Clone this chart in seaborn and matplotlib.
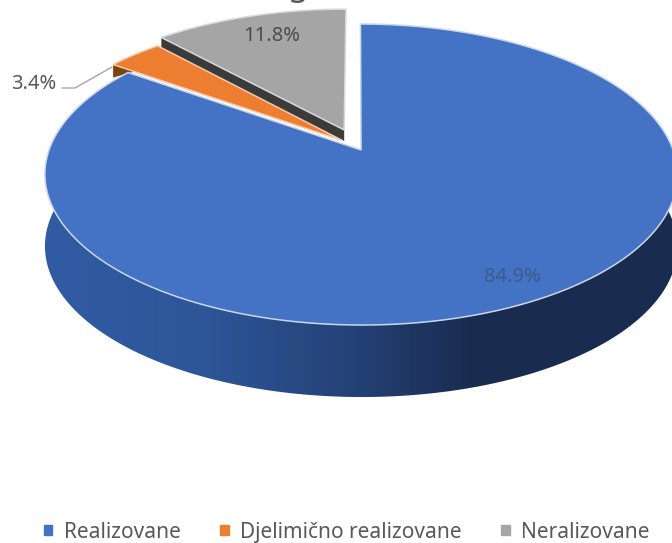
import numpy as np
import matplotlib
matplotlib.use("Agg")
import matplotlib.pyplot as plt
from matplotlib.patches import Patch, Polygon
import seaborn as sns

categories = ['Realizovane', 'Djelimično realizovane', 'Neralizovane']
values = [84.9, 3.4, 11.8]

sns.set_theme(style="white")
plt.rcParams['font.family'] = ['Noto Sans', 'DejaVu Sans']

palette = sns.color_palette(['#4472c4', '#ed7d31', '#a5a5a5'])
wall_colors = [None, '#7f4310', '#3b3b3b']
edge_colors = ['#c9d6ec', '#f6c9a8', '#d9d9d9']
offsets = [(0.013, 0.0), (-0.048, 0.066), (-0.042, 0.14)]  # wedge shift on the pie plane
depths = [72, 13, 11]

# perspective of the pie plane
X0, Y0, A, K, C = 357.0, 150.0, 312.0, 146.5, 0.163


def project(theta, r, off):
    u = r * np.sin(theta) + off[0]
    v = r * np.cos(theta) + off[1]
    return X0 + A * u / (1 + C * v), Y0 - K * v / (1 + C * v)


fig = plt.figure(figsize=(6.72, 5.43), dpi=100)
ax = fig.add_axes([0, 0, 1, 1])
ax.set_xlim(0, 672)
ax.set_ylim(543, 0)
ax.axis('off')

shares = np.array(values) / sum(values)
ends = np.cumsum(shares) * 2 * np.pi
starts = ends - shares * 2 * np.pi

# gray and orange first, the big blue slice goes on top of them
for i in [2, 1, 0]:
    t = np.linspace(starts[i], ends[i], 300)
    x, y = project(t, 1.0, offsets[i])
    ax_, ay_ = project(0.0, 0.0, offsets[i])
    top = np.column_stack([np.r_[ax_, x], np.r_[ay_, y]])

    if i == 0:
        # curved outer wall with a left to right shading
        tw = t[(t > np.pi * 0.3) & (t < np.pi * 1.6)]
        wx, wy = project(tw, 1.0, offsets[0])
        wall = np.column_stack([np.r_[wx, wx[::-1]], np.r_[wy, wy[::-1] + depths[0]]])
        patch = Polygon(wall, closed=True, fc='none', ec='none', zorder=i)
        ax.add_patch(patch)
        ramp = np.interp(np.linspace(0, 1, 256), [0, 0.25, 0.5, 0.68, 1], [0, 0.12, 0.55, 1, 1])
        c0, c1 = np.array([0.19, 0.36, 0.64]), np.array([0.10, 0.17, 0.31])
        grad = (c0[None, :] * (1 - ramp[:, None]) + c1[None, :] * ramp[:, None])[None, :, :]
        im = ax.imshow(grad, extent=(40, 675, 420, 150), aspect='auto', zorder=i)
        im.set_clip_path(patch)
        ax.set_xlim(0, 672)
        ax.set_ylim(543, 0)
    elif i == 1:
        # only the outer end of the orange wall shows past the blue slice
        mx, my = project(starts[1], 0.9, offsets[1])
        wall = np.array([[x[0], y[0]], [x[0], y[0] + depths[1]], [mx, my]])
        ax.add_patch(Polygon(wall, closed=True, fc=wall_colors[1], ec='none', zorder=3))
    else:
        wall = np.array([[ax_, ay_], [x[0], y[0]], [x[0], y[0] + depths[2]], [ax_, ay_ + depths[2]]])
        ax.add_patch(Polygon(wall, closed=True, fc=wall_colors[2], ec='none', zorder=2))

    z = 5 if i == 0 else 4 - i + 0.5
    ax.add_patch(Polygon(top, closed=True, fc=palette[i], ec=edge_colors[i], lw=1.1, zorder=z))

# cropped title, only the descender is in the frame
ax.text(297, -5, 'g', fontsize=24, color='#595959', ha='center', va='baseline', clip_on=True)

ax.text(512, 277, f'{values[0]:.1f}%', fontsize=14.5, color='#3f5b8c', ha='center', va='center', zorder=7)
ax.text(272, 36, f'{values[2]:.1f}%', fontsize=14.5, color='#4d4d4d', ha='center', va='center', zorder=7)
ax.text(34, 84, f'{values[1]:.1f}%', fontsize=14.5, color='#595959', ha='center', va='center', zorder=7)
ax.plot([62, 75, 112], [88, 88, 67], color='#a6a6a6', lw=1, zorder=6)

handles = [Patch(color=palette[i], label=categories[i]) for i in range(3)]
leg = ax.legend(handles=handles, ncol=3, frameon=False, loc='center', bbox_to_anchor=(0.516, 0.02),
                fontsize=15, handlelength=0.4, handleheight=0.4, handletextpad=0.55,
                columnspacing=1.9, labelcolor='#595959')

fig.savefig('out.png', dpi=100)
